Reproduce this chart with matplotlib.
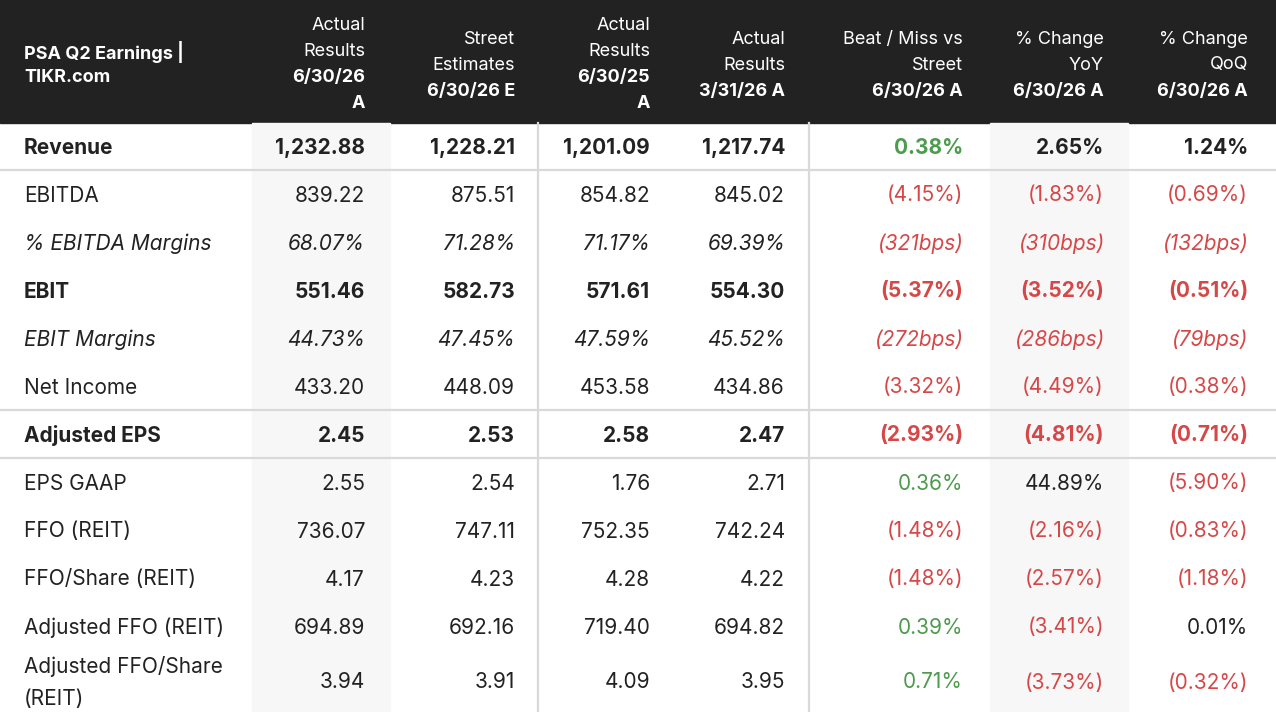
import matplotlib.pyplot as plt
from matplotlib.patches import Rectangle

plt.rcParams['font.family'] = ['Inter', 'DejaVu Sans']

# --- datos de la tabla ---
titulo = ["PSA Q2 Earnings |", "TIKR.com"]
encabezados = [
    ["Actual", "Results", "6/30/26", "A"],
    ["Street", "Estimates", "6/30/26 E"],
    ["Actual", "Results", "6/30/25", "A"],
    ["Actual", "Results", "3/31/26 A"],
    ["Beat / Miss vs", "Street", "6/30/26 A"],
    ["% Change", "YoY", "6/30/26 A"],
    ["% Change", "QoQ", "6/30/26 A"],
]
# cuantas lineas del encabezado son negrita (las ultimas)
encab_negrita = [2, 1, 2, 1, 1, 1, 1]

etiquetas = ["Revenue", "EBITDA", "% EBITDA Margins", "EBIT", "EBIT Margins",
             "Net Income", "Adjusted EPS", "EPS GAAP", "FFO (REIT)",
             "FFO/Share (REIT)", "Adjusted FFO (REIT)", "Adjusted FFO/Share\n(REIT)"]
estilo_fila = ["bold", "normal", "italic", "bold", "italic", "normal",
               "bold", "normal", "normal", "normal", "normal", "normal"]

actual_q2_26 = ["1,232.88", "839.22", "68.07%", "551.46", "44.73%", "433.20",
                "2.45", "2.55", "736.07", "4.17", "694.89", "3.94"]
street_q2_26 = ["1,228.21", "875.51", "71.28%", "582.73", "47.45%", "448.09",
                "2.53", "2.54", "747.11", "4.23", "692.16", "3.91"]
actual_q2_25 = ["1,201.09", "854.82", "71.17%", "571.61", "47.59%", "453.58",
                "2.58", "1.76", "752.35", "4.28", "719.40", "4.09"]
actual_q1_26 = ["1,217.74", "845.02", "69.39%", "554.30", "45.52%", "434.86",
                "2.47", "2.71", "742.24", "4.22", "694.82", "3.95"]
beat_miss = ["0.38%", "(4.15%)", "(321bps)", "(5.37%)", "(272bps)", "(3.32%)",
             "(2.93%)", "0.36%", "(1.48%)", "(1.48%)", "0.39%", "0.71%"]
cambio_yoy = ["2.65%", "(1.83%)", "(310bps)", "(3.52%)", "(286bps)", "(4.49%)",
              "(4.81%)", "44.89%", "(2.16%)", "(2.57%)", "(3.41%)", "(3.73%)"]
cambio_qoq = ["1.24%", "(0.69%)", "(132bps)", "(0.51%)", "(79bps)", "(0.38%)",
              "(0.71%)", "(5.90%)", "(0.83%)", "(1.18%)", "0.01%", "(0.32%)"]

columnas = [actual_q2_26, street_q2_26, actual_q2_25, actual_q1_26,
            beat_miss, cambio_yoy, cambio_qoq]

# --- layout (pixeles) ---
W, H = 1276, 712
alto_encab = 123
altos_fila = [47] + [48] * 10 + [62]
x_der = [365, 515, 650, 785, 963, 1104, 1248]
x_etiq = 24
sombreado = [(252, 390), (990, 1128)]
lineas_h = [1, 6, 7]      # indices de borde de fila con separador
lineas_v = [538, 809]

FONDO_ENC = "#222222"
TEXTO = "#222222"
ROJO = "#d64848"
VERDE = "#4e9a4e"
GRIS_LINEA = "#d9d9d9"
GRIS_FONDO = "#f7f7f7"

fig = plt.figure(figsize=(W / 100, H / 100), dpi=100)
ax = fig.add_axes([0, 0, 1, 1])
ax.set_xlim(0, W)
ax.set_ylim(H, 0)
ax.axis("off")

# fondo del encabezado
ax.add_patch(Rectangle((0, 0), W, alto_encab, color=FONDO_ENC, zorder=0))

# columnas sombreadas
for x0, x1 in sombreado:
    ax.add_patch(Rectangle((x0, alto_encab), x1 - x0, H - alto_encab,
                           color=GRIS_FONDO, zorder=0))

# titulo
paso = 26
for i, t in enumerate(titulo):
    ax.text(x_etiq, 52 + i * paso, t, color="white", fontsize=13,
            fontweight="bold", va="center", ha="left")

# encabezados de columnas
for j, lineas in enumerate(encabezados):
    n = len(lineas)
    y0 = 26 if n == 4 else 39
    for k, t in enumerate(lineas):
        negrita = k >= n - encab_negrita[j]
        ax.text(x_der[j], y0 + k * paso, t, color="white", fontsize=13,
                fontweight="bold" if negrita else "normal",
                va="center", ha="right")

# filas
y = alto_encab
centros = []
for h in altos_fila:
    centros.append(y + h / 2 + 1.5)
    y += h

for i, etiq in enumerate(etiquetas):
    est = estilo_fila[i]
    peso = "bold" if est == "bold" else "normal"
    forma = "italic" if est == "italic" else "normal"
    yc = centros[i]
    ax.text(x_etiq, yc, etiq, color=TEXTO, fontsize=15, fontweight=peso,
            fontstyle=forma, va="center", ha="left", linespacing=1.72)
    for j, col in enumerate(columnas):
        v = col[i]
        color = TEXTO
        if j >= 4:
            if v.startswith("("):
                color = ROJO
            elif j == 4:
                color = VERDE
        ax.text(x_der[j], yc, v, color=color, fontsize=15, fontweight=peso,
                fontstyle=forma, va="center", ha="right")

# lineas separadoras
bordes = [alto_encab]
for h in altos_fila:
    bordes.append(bordes[-1] + h)
for i in lineas_h:
    ax.plot([0, W], [bordes[i], bordes[i]], color=GRIS_LINEA, lw=1.6, zorder=1)
for x in lineas_v:
    ax.plot([x, x], [alto_encab, H], color=GRIS_LINEA, lw=1.6, zorder=1)

fig.savefig("out.png", dpi=100)
